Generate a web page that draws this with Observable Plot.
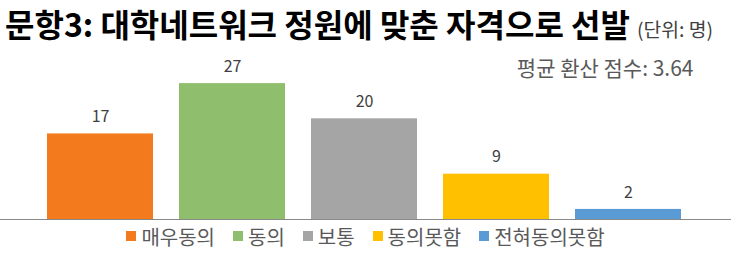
<!DOCTYPE html>
<html>
<head>
<meta charset="utf-8">
<script src="https://cdn.jsdelivr.net/npm/d3@7"></script>
<script src="https://cdn.jsdelivr.net/npm/@observablehq/plot@0.6"></script>
<style>
  html, body { margin: 0; padding: 0; background: #fff; }
  body { width: 731px; height: 261px; overflow: hidden; font-family: "Noto Sans CJK KR", "Noto Sans", sans-serif; }
  #title { height: 44px; padding-left: 5px; font-size: 32px; font-weight: 700; color: #000; white-space: nowrap; }
  #title .inner { display: block; height: 44px; line-height: 47px; }
  #title .unit { font-size: 19.3px; font-weight: 400; color: #404040; margin-left: 7px; }
  #chart svg { display: block; }
  #legend { height: 24px; display: flex; justify-content: center; align-items: center; gap: 18px; font-size: 20px; color: #595959; }
  #legend .item { display: flex; align-items: center; }
  #legend .sw { width: 10px; height: 10px; margin-right: 5px; }
</style>
</head>
<body>
<div id="title"><span class="inner">문항3: 대학네트워크 정원에 맞춘 자격으로 선발<span class="unit">(단위: 명)</span></span></div>
<div id="chart"></div>
<div id="legend"></div>
<script>
const categories = ["매우동의", "동의", "보통", "동의못함", "전혀동의못함"];
const values = [17, 27, 20, 9, 2];
const colors = ["#F47A1E", "#8FBF6D", "#A5A5A5", "#FFC000", "#5B9BD5"];
const note = "평균 환산 점수: 3.64";

const data = categories.map((c, i) => ({category: c, value: values[i]}));

const chart = Plot.plot({
  width: 731,
  height: 180,
  marginLeft: 0,
  marginRight: 0,
  marginTop: 24,
  marginBottom: 5,
  style: {background: "#fff", fontFamily: "'Noto Sans CJK KR', 'Noto Sans', sans-serif"},
  x: {domain: categories, paddingInner: 0.2, paddingOuter: 0.354, align: 0.479, axis: null},
  y: {domain: [0, 30], axis: null},
  color: {domain: categories, range: colors},
  marks: [
    Plot.barY(data, {x: "category", y: "value", fill: "category"}),
    Plot.ruleY([0], {stroke: "#898989", strokeWidth: 1}),
    Plot.text(data, {x: "category", y: "value", text: d => String(d.value), dy: -17, fill: "#404040", fontSize: 16}),
    Plot.text([note], {frameAnchor: "top-right", dx: -38, dy: 1, textAnchor: "end", lineAnchor: "middle", fontSize: 21, fill: "#595959"})
  ]
});
document.getElementById("chart").appendChild(chart);

const legend = document.getElementById("legend");
categories.forEach((c, i) => {
  const item = document.createElement("div");
  item.className = "item";
  const sw = document.createElement("span");
  sw.className = "sw";
  sw.style.background = colors[i];
  const label = document.createElement("span");
  label.textContent = c;
  item.appendChild(sw);
  item.appendChild(label);
  legend.appendChild(item);
});
</script>
</body>
</html>
